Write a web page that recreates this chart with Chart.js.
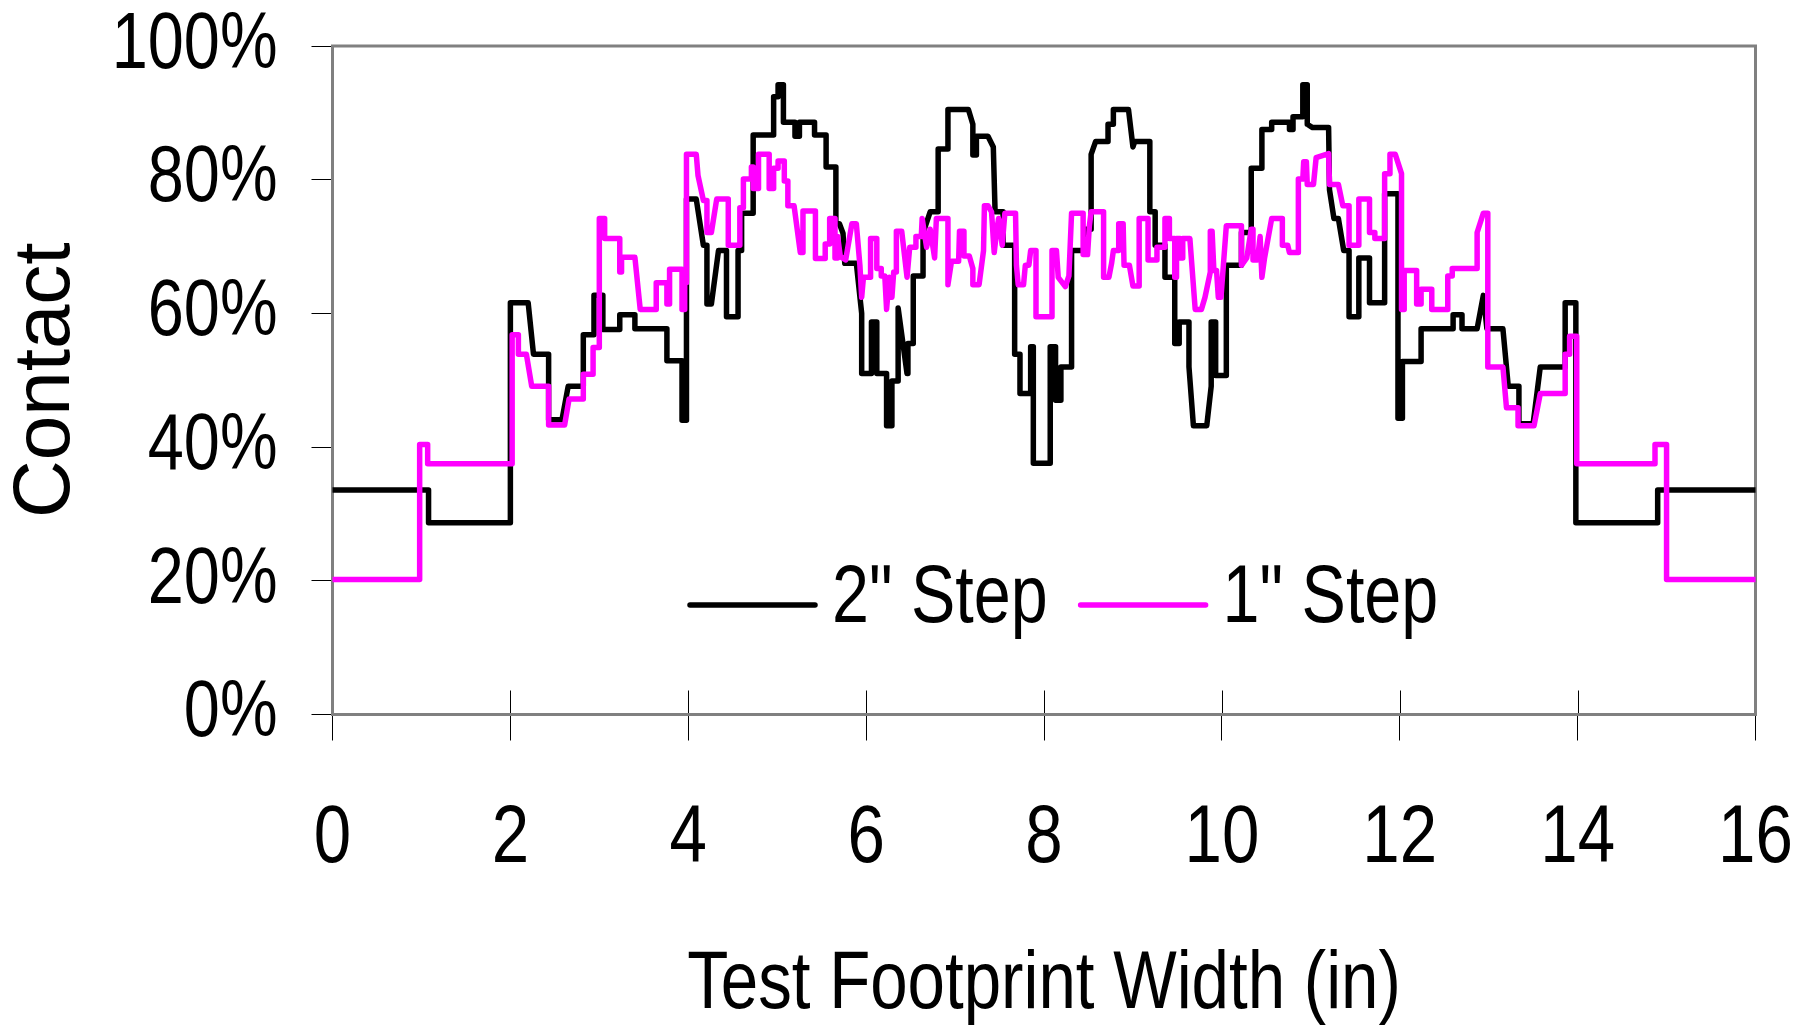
<!DOCTYPE html>
<html>
<head>
<meta charset="utf-8">
<script src="https://cdn.jsdelivr.net/npm/chart.js@4.4.1/dist/chart.umd.min.js"></script>
<style>
  html, body { margin: 0; padding: 0; background: #fff; }
  canvas { display: block; }
</style>
</head>
<body>
<canvas id="contactChart" width="1804" height="1026"></canvas>
<script>
// contact along the test footprint, [width (in), contact (%)]
const step2 = [[0,33.6],[1.08,33.6],[1.08,28.7],[2.0,28.7],[2.0,61.6],[2.2,61.6],[2.26,53.9],[2.43,53.9],[2.43,44.1],[2.58,44.1],[2.65,49.1],[2.82,49.1],[2.82,56.8],[2.94,56.8],[2.94,62.7],[3.04,62.7],[3.04,57.6],[3.23,57.6],[3.23,59.8],[3.40,59.8],[3.40,57.7],[3.76,57.7],[3.76,52.9],[3.93,52.9],[3.93,44.0],[3.98,44.0],[3.98,77.1],[4.09,77.1],[4.17,70.2],[4.21,70.2],[4.21,61.4],[4.26,61.4],[4.34,69.4],[4.43,69.4],[4.43,59.5],[4.56,59.5],[4.56,69.4],[4.60,69.4],[4.60,75.0],[4.73,75.0],[4.73,86.7],[4.96,86.7],[4.96,92.4],[5.01,92.4],[5.01,94.2],[5.07,94.2],[5.07,88.6],[5.20,88.6],[5.20,86.5],[5.25,86.5],[5.25,88.6],[5.42,88.6],[5.42,86.7],[5.55,86.7],[5.55,81.9],[5.66,81.9],[5.66,73.4],[5.70,73.4],[5.74,72.0],[5.76,67.5],[5.89,67.5],[5.95,60.0],[5.95,51.0],[6.06,51.0],[6.06,58.7],[6.12,58.7],[6.12,51.0],[6.23,51.0],[6.23,43.2],[6.29,43.2],[6.29,49.9],[6.36,49.9],[6.36,60.8],[6.46,51.0],[6.47,55.5],[6.53,55.5],[6.53,65.6],[6.64,65.6],[6.64,72.0],[6.72,75.2],[6.81,75.2],[6.81,84.6],[6.92,84.6],[6.92,90.5],[7.15,90.5],[7.20,88.3],[7.20,83.7],[7.24,83.7],[7.24,86.5],[7.37,86.5],[7.43,84.9],[7.45,75.2],[7.54,75.2],[7.54,70.2],[7.67,70.2],[7.67,53.9],[7.73,53.9],[7.73,48.0],[7.85,48.0],[7.85,55.0],[7.88,55.0],[7.88,37.6],[8.07,37.6],[8.07,55.0],[8.13,55.0],[8.13,47.0],[8.19,47.0],[8.19,52.0],[8.31,52.0],[8.31,69.4],[8.46,69.4],[8.46,72.6],[8.53,72.6],[8.53,83.8],[8.58,85.7],[8.72,85.7],[8.72,88.3],[8.78,88.3],[8.78,90.5],[8.95,90.5],[9.00,84.9],[9.02,85.7],[9.19,85.7],[9.19,75.2],[9.25,75.2],[9.25,70.2],[9.36,70.2],[9.36,65.4],[9.47,65.4],[9.47,55.5],[9.52,55.5],[9.52,58.7],[9.63,58.7],[9.63,52.0],[9.68,43.2],[9.83,43.2],[9.88,49.1],[9.88,58.7],[9.93,58.7],[9.93,50.7],[10.05,50.7],[10.05,67.2],[10.22,67.2],[10.22,72.1],[10.33,72.1],[10.33,81.7],[10.45,81.7],[10.45,87.5],[10.56,87.5],[10.56,88.6],[10.76,88.6],[10.76,87.5],[10.80,87.5],[10.80,89.4],[10.91,89.4],[10.91,94.2],[10.96,94.2],[10.96,88.3],[11.02,87.8],[11.20,87.8],[11.21,78.5],[11.26,74.2],[11.31,74.2],[11.37,69.4],[11.43,69.4],[11.43,59.5],[11.54,59.5],[11.54,68.3],[11.66,68.3],[11.66,61.6],[11.83,61.6],[11.83,77.9],[11.98,77.9],[11.98,44.3],[12.03,44.3],[12.03,52.8],[12.24,52.8],[12.24,57.7],[12.60,57.7],[12.60,59.8],[12.70,59.8],[12.70,57.7],[12.87,57.7],[12.94,62.7],[12.98,57.7],[13.16,57.7],[13.22,49.1],[13.34,49.1],[13.34,43.5],[13.50,43.5],[13.58,52.0],[13.86,52.0],[13.86,61.6],[13.98,61.6],[13.98,28.7],[14.9,28.7],[14.9,33.6],[16,33.6]];

const step1 = [[0,20.2],[0.98,20.2],[0.98,40.4],[1.07,40.4],[1.07,37.5],[2.02,37.5],[2.02,56.8],[2.09,56.8],[2.09,53.9],[2.18,53.9],[2.24,49.1],[2.43,49.1],[2.43,43.3],[2.61,43.3],[2.66,47.2],[2.82,47.2],[2.82,50.9],[2.93,50.9],[2.93,54.9],[3.0,54.9],[3.0,74.2],[3.06,74.2],[3.06,71.2],[3.23,71.2],[3.23,66.2],[3.25,66.2],[3.25,68.4],[3.40,68.4],[3.46,60.6],[3.64,60.6],[3.64,64.6],[3.76,64.6],[3.76,61.4],[3.79,61.4],[3.79,66.6],[3.93,66.6],[3.93,60.6],[3.96,60.6],[3.96,64.6],[3.98,64.6],[3.98,83.8],[4.09,83.8],[4.11,80.6],[4.17,76.9],[4.21,76.9],[4.21,72.1],[4.26,72.1],[4.32,77.1],[4.45,77.1],[4.45,70.2],[4.58,70.2],[4.58,75.8],[4.62,75.8],[4.62,80.1],[4.71,80.1],[4.71,81.9],[4.73,81.9],[4.73,78.7],[4.79,78.7],[4.79,83.8],[4.91,83.8],[4.91,78.7],[4.96,78.7],[4.96,81.7],[5.01,81.7],[5.01,82.8],[5.08,82.8],[5.08,79.8],[5.12,79.8],[5.12,76.1],[5.19,76.1],[5.26,69.1],[5.29,69.1],[5.29,75.3],[5.43,75.3],[5.43,68.2],[5.54,68.2],[5.54,70.4],[5.59,70.4],[5.59,74.2],[5.65,74.2],[5.65,68.3],[5.68,68.3],[5.68,71.5],[5.71,68.5],[5.77,68.0],[5.84,73.4],[5.89,73.4],[5.93,67.2],[5.95,62.4],[5.97,65.4],[6.05,65.4],[6.05,71.2],[6.12,71.2],[6.12,66.7],[6.17,66.7],[6.17,65.6],[6.21,65.6],[6.23,60.6],[6.26,65.4],[6.29,62.4],[6.31,66.2],[6.34,66.2],[6.34,72.3],[6.40,72.3],[6.46,65.4],[6.49,69.9],[6.55,69.9],[6.56,71.5],[6.62,71.5],[6.63,74.2],[6.68,69.9],[6.72,72.6],[6.77,68.3],[6.79,74.2],[6.92,74.2],[6.92,64.3],[6.96,67.8],[7.04,67.8],[7.05,72.3],[7.10,72.3],[7.10,68.6],[7.16,68.6],[7.20,66.7],[7.20,64.3],[7.27,64.3],[7.32,69.4],[7.33,76.1],[7.37,76.1],[7.41,75.2],[7.44,69.1],[7.47,72.6],[7.49,74.2],[7.53,70.2],[7.56,75.0],[7.68,75.0],[7.69,67.2],[7.71,64.3],[7.77,64.3],[7.79,67.2],[7.83,67.2],[7.85,69.4],[7.91,69.4],[7.91,59.5],[8.09,59.5],[8.09,69.4],[8.14,69.4],[8.16,65.4],[8.24,64.0],[8.28,65.6],[8.31,75.0],[8.44,75.0],[8.44,68.8],[8.49,68.8],[8.51,73.1],[8.53,75.2],[8.67,75.2],[8.67,65.4],[8.73,65.4],[8.76,67.5],[8.78,69.4],[8.84,69.4],[8.84,73.4],[8.89,73.4],[8.90,67.2],[8.96,67.2],[9.00,64.1],[9.07,64.1],[9.07,74.2],[9.17,74.2],[9.17,68.0],[9.27,68.0],[9.27,69.9],[9.36,69.9],[9.36,74.2],[9.41,74.2],[9.41,71.2],[9.47,71.2],[9.47,65.4],[9.49,65.4],[9.49,71.2],[9.53,71.2],[9.53,68.3],[9.56,68.3],[9.56,71.2],[9.64,71.2],[9.70,60.6],[9.77,60.6],[9.81,62.4],[9.87,66.2],[9.87,72.3],[9.89,72.3],[9.91,66.4],[9.94,66.4],[9.96,62.4],[9.99,62.4],[10.05,73.1],[10.22,73.1],[10.22,67.2],[10.28,68.3],[10.33,72.6],[10.35,72.6],[10.35,68.0],[10.40,68.0],[10.43,71.5],[10.45,65.4],[10.48,68.3],[10.56,74.2],[10.68,74.2],[10.68,70.2],[10.74,70.2],[10.76,69.1],[10.86,69.1],[10.86,80.1],[10.91,80.1],[10.92,82.7],[10.95,82.7],[10.96,79.3],[11.03,79.3],[11.06,83.3],[11.20,83.9],[11.21,79.3],[11.31,79.3],[11.36,76.1],[11.43,76.1],[11.43,70.2],[11.54,70.2],[11.54,77.1],[11.66,77.1],[11.66,72.1],[11.72,72.1],[11.72,71.2],[11.83,71.2],[11.83,80.9],[11.89,80.9],[11.89,83.8],[11.95,83.8],[12.02,80.9],[12.02,60.6],[12.05,60.6],[12.05,66.4],[12.19,66.4],[12.19,61.4],[12.24,61.4],[12.24,63.6],[12.36,63.6],[12.36,60.6],[12.54,60.6],[12.54,65.6],[12.59,65.6],[12.59,66.7],[12.87,66.7],[12.87,72.1],[12.94,75.0],[12.99,75.0],[12.99,52.0],[13.16,52.0],[13.20,45.9],[13.33,45.9],[13.33,43.2],[13.51,43.2],[13.58,48.0],[13.86,48.0],[13.86,53.9],[13.91,53.9],[13.91,56.6],[13.99,56.6],[13.99,37.5],[14.87,37.5],[14.87,40.4],[15.0,40.4],[15.0,20.2],[16,20.2]];

const seriesNames = ['2" Step', '1" Step'];
const seriesColors = ['#000000', '#FF00FF'];
const xTickValues = [0, 2, 4, 6, 8, 10, 12, 14, 16];
const yTickLabels = ['0%', '20%', '40%', '60%', '80%', '100%'];

// no Arial Narrow here, so the "narrow" text gets squeezed when drawn
const narrow = "'Liberation Sans Narrow', 'Liberation Sans', Arial, sans-serif";
const squeeze = 0.82;

// gray frame round the plot + the inner half of the x ticks
const plotFrame = {
  id: 'plotFrame',
  beforeDatasetsDraw(chart) {
    const {ctx, chartArea: a} = chart;
    const xs = chart.scales.x;
    ctx.save();
    ctx.strokeStyle = '#000';
    ctx.lineWidth = 1;
    xTickValues.forEach(v => {
      const px = Math.round(xs.getPixelForValue(v)) + 0.5;
      ctx.beginPath();
      ctx.moveTo(px, a.bottom - 24);
      ctx.lineTo(px, a.bottom);
      ctx.stroke();
    });
    ctx.strokeStyle = '#808080';
    ctx.lineWidth = 3;
    ctx.strokeRect(a.left, a.top, a.right - a.left, a.bottom - a.top);
    ctx.restore();
  }
};

// legend sitting inside the plot, line sample + label
const innerLegend = {
  id: 'innerLegend',
  afterDraw(chart) {
    const {ctx} = chart;
    let x = 690;
    const y = 600;
    ctx.save();
    ctx.font = '81px ' + narrow;
    ctx.textBaseline = 'middle';
    chart.data.datasets.forEach(ds => {
      ctx.strokeStyle = ds.borderColor;
      ctx.lineWidth = 5.5;
      ctx.lineCap = 'round';
      ctx.beginPath();
      ctx.moveTo(x, y + 5);
      ctx.lineTo(x + 125, y + 5);
      ctx.stroke();
      ctx.fillStyle = '#000';
      ctx.fillText(ds.label, x + 142, y);
      x += 142 + ctx.measureText(ds.label).width * squeeze + 33;
    });
    ctx.restore();
  }
};

function contactChart() {
  const ctx = document.getElementById('contactChart').getContext('2d');
  const baseFill = ctx.fillText;
  ctx.fillText = function (text, x, y, maxWidth) {
    if (!this.font.includes('Narrow')) return baseFill.call(this, text, x, y, maxWidth);
    this.save();
    this.translate(x, y);
    this.scale(squeeze, 1);
    baseFill.call(this, text, 0, 0);
    this.restore();
  };

  const chart = new Chart(ctx, {
    type: 'line',
    data: {
      datasets: [
        {
          label: seriesNames[0],
          data: step2.map(([x, y]) => ({x, y})),
          borderColor: seriesColors[0],
          backgroundColor: seriesColors[0],
          borderWidth: 5.5,
          order: 1
        },
        {
          label: seriesNames[1],
          data: step1.map(([x, y]) => ({x, y})),
          borderColor: seriesColors[1],
          backgroundColor: seriesColors[1],
          borderWidth: 5.5,
          order: 0
        }
      ]
    },
    options: {
      responsive: false,
      animation: false,
      devicePixelRatio: 1,
      layout: { padding: { top: 46, right: 48.5, left: 0, bottom: 0 } },
      elements: {
        point: { radius: 0 },
        line: { tension: 0, borderJoinStyle: 'round', borderCapStyle: 'round' }
      },
      plugins: {
        legend: { display: false },
        tooltip: { enabled: false }
      },
      scales: {
        x: {
          type: 'linear',
          min: 0,
          max: 16,
          afterFit: s => { s.height = 311.5; s.paddingLeft = 0; s.paddingRight = 0; },
          afterBuildTicks: s => { s.ticks = xTickValues.map(v => ({value: v})); },
          border: { display: true, color: '#808080', width: 3 },
          grid: { display: true, drawOnChartArea: false, drawTicks: true, tickLength: 26, color: '#000', lineWidth: 1 },
          ticks: {
            autoSkip: false,
            maxRotation: 0,
            padding: 58,
            color: '#000',
            font: { family: narrow, size: 82, lineHeight: 1 }
          },
          title: {
            display: true,
            text: 'Test Footprint Width (in)',
            color: '#000',
            font: { family: narrow, size: 82, lineHeight: 1 },
            padding: { top: 0, bottom: 0 }
          }
        },
        y: {
          type: 'linear',
          min: 0,
          max: 100,
          afterFit: s => { s.width = 332.5; s.paddingTop = 0; s.paddingBottom = 0; },
          border: { display: true, color: '#808080', width: 3 },
          grid: { display: true, drawOnChartArea: false, drawTicks: true, tickLength: 21, color: '#000', lineWidth: 1 },
          ticks: {
            stepSize: 20,
            padding: 34,
            color: '#000',
            font: { family: narrow, size: 79, lineHeight: 1 },
            callback: v => yTickLabels[Math.round(v / 20)]
          },
          title: {
            display: true,
            text: 'Contact',
            color: '#000',
            font: { family: "'Liberation Sans', Arial, sans-serif", size: 80, lineHeight: 1 },
            padding: { top: 7, bottom: 0 }
          }
        }
      }
    },
    plugins: [plotFrame, innerLegend]
  });
}
contactChart()
</script>
</body>
</html>
